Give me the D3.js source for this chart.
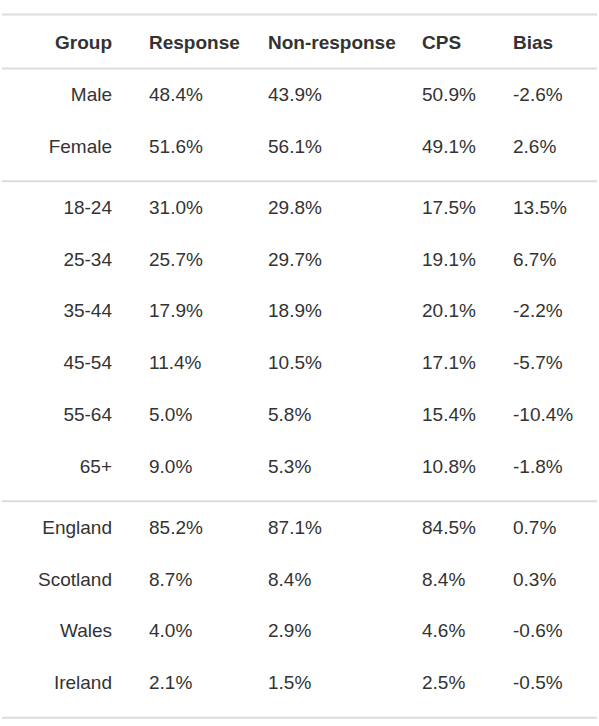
<!DOCTYPE html>
<html>
<head>
<meta charset="utf-8">
<script src="https://cdn.jsdelivr.net/npm/d3@7"></script>
<style>
  body { margin: 0; background: #fff; }
  text { font-family: "Liberation Sans", Arial, sans-serif; font-size: 19px; fill: #333; }
  .head { font-weight: bold; }
</style>
</head>
<body>
<svg id="table" width="599" height="726"></svg>
<script>
// table content
const columns = ['Group', 'Response', 'Non-response', 'CPS', 'Bias']
const sexGroups = ['Male', 'Female']
const ageGroups = ['18-24', '25-34', '35-44', '45-54', '55-64', '65+']
const countryGroups = ['England', 'Scotland', 'Wales', 'Ireland']

const response    = ['48.4%', '51.6%', '31.0%', '25.7%', '17.9%', '11.4%', '5.0%', '9.0%', '85.2%', '8.7%', '4.0%', '2.1%']
const nonResponse = ['43.9%', '56.1%', '29.8%', '29.7%', '18.9%', '10.5%', '5.8%', '5.3%', '87.1%', '8.4%', '2.9%', '1.5%']
const cps         = ['50.9%', '49.1%', '17.5%', '19.1%', '20.1%', '17.1%', '15.4%', '10.8%', '84.5%', '8.4%', '4.6%', '2.5%']
const bias        = ['-2.6%', '2.6%', '13.5%', '6.7%', '-2.2%', '-5.7%', '-10.4%', '-1.8%', '0.7%', '0.3%', '-0.6%', '-0.5%']

const sections = [sexGroups, ageGroups, countryGroups]

const svg = d3.select('#table')
const lineColor = '#dddddd'
const left = 2, right = 597

// column x positions (first column right-aligned)
const xPos = d3.scaleOrdinal()
  .domain(columns)
  .range([112, 149, 268, 422, 513])

// build the rows, remembering which section each belongs to
const rows = []
sections.forEach((sec, g) => {
  sec.forEach(name => rows.push({ name: name, section: g }))
})
rows.forEach((r, i) => {
  r.values = [r.name, response[i], nonResponse[i], cps[i], bias[i]]
})

// vertical layout: row step, plus extra gap between sections
const rowStep = 51.8
const sectionGap = 9.2
const headerLine = 68.5
const yScale = d3.scaleLinear()
  .domain([0, 1])
  .range([headerLine + 32.5, headerLine + 32.5 + rowStep])
const rowY = (d, i) => yScale(i) + d.section * sectionGap

// horizontal rules: top, under header, between sections, bottom
const rules = [14.5, headerLine]
sections.forEach((sec, g) => {
  const lastIdx = rows.findIndex(r => r.section === g) + sec.length - 1
  rules.push(rowY(rows[lastIdx], lastIdx) + 28.5)
})

svg.selectAll('line.rule')
  .data(rules)
  .enter()
  .append('line')
    .attr('class', 'rule')
    .attr('x1', left)
    .attr('x2', right)
    .attr('y1', d => d)
    .attr('y2', d => d)
    .style('stroke', lineColor)
    .style('stroke-width', 2)

// header
svg.selectAll('text.head')
  .data(columns)
  .enter()
  .append('text')
    .attr('class', 'head')
    .attr('x', d => xPos(d))
    .attr('y', 48.5)
    .attr('text-anchor', (d, i) => i === 0 ? 'end' : 'start')
    .text(d => d)

// body rows
const rowG = svg.selectAll('g.row')
  .data(rows)
  .enter()
  .append('g')
    .attr('class', 'row')
    .attr('transform', (d, i) => `translate(0, ${rowY(d, i)})`)

rowG.selectAll('text')
  .data(d => d.values)
  .enter()
  .append('text')
    .attr('x', (d, i) => xPos(columns[i]))
    .attr('text-anchor', (d, i) => i === 0 ? 'end' : 'start')
    .text(d => d)
</script>
</body>
</html>
